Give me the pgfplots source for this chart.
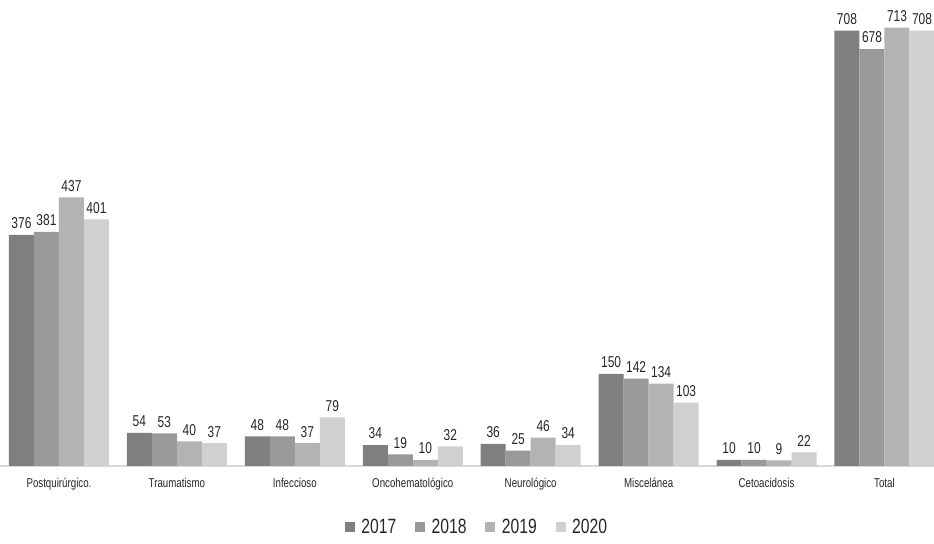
\documentclass[border=0pt]{standalone}
\usepackage{fontspec}
\setmainfont{Liberation Sans}[FakeStretch=0.76]
\usepackage{pgfplots}
\pgfplotsset{compat=1.18}

\definecolor{cA}{HTML}{7F7F7F}
\definecolor{cB}{HTML}{999999}
\definecolor{cC}{HTML}{B3B3B3}
\definecolor{cD}{HTML}{D0D0D0}
\definecolor{txt}{HTML}{262626}
\definecolor{base}{HTML}{D9D9D9}

\pgfplotstableread{
x y2017 y2018 y2019 y2020
0 376 381 437 401
1 54 53 40 37
2 48 48 37 79
3 34 19 10 32
4 36 25 46 34
5 150 142 134 103
6 10 10 9 22
7 708 678 713 708
}\datos

\begin{document}
\begin{tikzpicture}
\begin{axis}[
    scale only axis,
    width=700.5pt, height=349.5pt,
    ybar=0pt,
    bar width=0.212,
    xmin=-0.5, xmax=7.42,
    ymin=0, ymax=758,
    axis y line=none,
    axis x line*=bottom,
    x axis line style={draw=base, line width=0.8pt, -},
    xtick=data,
    xticklabels={Postquirúrgico.,Traumatismo,Infeccioso,Oncohematológico,Neurológico,Miscelánea,Cetoacidosis,Total},
    major tick length=0pt,
    xticklabel style={font=\fontsize{9.6}{11}\selectfont, text=txt, yshift=-5.5pt},
    nodes near coords,
    every node near coord/.append style={font=\fontsize{11.8}{13}\selectfont, text=txt, yshift=1pt},
    /pgf/number format/assume math mode=true,
    clip=false,
    legend columns=4,
    legend style={draw=none, fill=none, at={(axis description cs:0.511,-0.131)}, anchor=center,
        font=\fontsize{15.5}{17}\selectfont, text=txt,
        /tikz/every odd column/.append style={column sep=3pt},
        /tikz/every even column/.append style={column sep=12pt}},
    legend image code/.code={\fill[#1] (0pt,-3.8pt) rectangle (7.5pt,3.8pt);},
]
\addplot[fill=cA, draw=none] table[x=x, y=y2017] {\datos};
\addlegendentry{2017}
\addplot[fill=cB, draw=none] table[x=x, y=y2018] {\datos};
\addlegendentry{2018}
\addplot[fill=cC, draw=none] table[x=x, y=y2019] {\datos};
\addlegendentry{2019}
\addplot[fill=cD, draw=none] table[x=x, y=y2020] {\datos};
\addlegendentry{2020}
\coordinate (bl) at (rel axis cs:0,0);
\coordinate (tr) at (rel axis cs:1,1);
\end{axis}
\pgfresetboundingbox
\path[use as bounding box] (bl) ++(0,-58.5pt) rectangle (tr);
\end{tikzpicture}
\end{document}
